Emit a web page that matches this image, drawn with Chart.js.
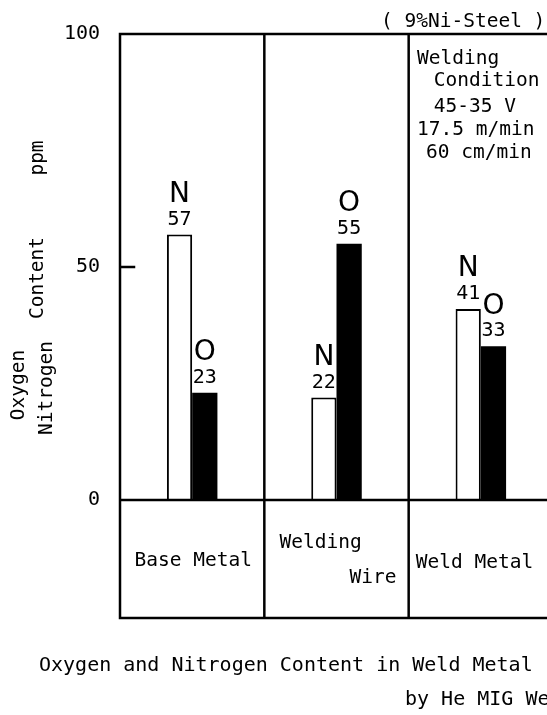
<!DOCTYPE html>
<html>
<head>
<meta charset="utf-8">
<script src="https://cdn.jsdelivr.net/npm/chart.js@4"></script>
<style>
  html, body { margin: 0; padding: 0; background: #fff; overflow: hidden; }
  #wrap { width: 547px; height: 715px; overflow: hidden; }
</style>
</head>
<body>
<div id="wrap"><canvas id="chart" width="555" height="715"></canvas></div>
<script>
// Veriler
const categories = ['Base Metal', 'Welding Wire', 'Weld Metal'];
const nitrogen = [57, 22, 41];
const oxygen = [23, 55, 33];
const yTicks = [0, 50, 100];
const seriesLetters = ['N', 'O'];
const conditionLines = ['Welding', ' Condition', ' 45-35 V', '17.5 m/min', '60 cm/min'];

const MONO = '"DejaVu Sans Mono", "Liberation Mono", monospace';
const BOX_BOTTOM = 618;

// Çerçeve, etiketler ve başlıklar
const paperPlugin = {
    id: 'paper',
    afterDatasetsDraw(chart) {
        const ctx = chart.ctx;
        const area = chart.chartArea;
        const x = chart.scales.x;
        const y = chart.scales.y;
        const W = chart.width;

        ctx.save();
        ctx.strokeStyle = '#000';
        ctx.lineWidth = 2.5;
        ctx.lineCap = 'square';

        // dış çerçeve
        ctx.beginPath();
        ctx.moveTo(area.left, area.top); ctx.lineTo(W, area.top);
        ctx.moveTo(area.left, area.top); ctx.lineTo(area.left, BOX_BOTTOM);
        ctx.moveTo(area.left, area.bottom); ctx.lineTo(W, area.bottom);
        ctx.moveTo(area.left, BOX_BOTTOM); ctx.lineTo(W, BOX_BOTTOM);
        // kategori ayraçları
        const step = x.getPixelForValue(1) - x.getPixelForValue(0);
        categories.forEach((c, i) => {
            const bx = x.getPixelForValue(i) + step / 2;
            ctx.moveTo(bx, area.top); ctx.lineTo(bx, BOX_BOTTOM);
        });
        // 50 çentiği
        const y50 = y.getPixelForValue(50);
        ctx.moveTo(area.left, y50); ctx.lineTo(area.left + 14, y50);
        ctx.stroke();

        ctx.fillStyle = '#000';
        ctx.textBaseline = 'middle';

        // bar üstü etiketler
        chart.data.datasets.forEach((ds, di) => {
            const meta = chart.getDatasetMeta(di);
            meta.data.forEach((bar, i) => {
                ctx.textAlign = 'center';
                ctx.font = '28px "DejaVu Sans", sans-serif';
                ctx.fillText(seriesLetters[di], bar.x, bar.y - 40);
                ctx.font = '20px ' + MONO;
                ctx.fillText(String(ds.data[i]), bar.x, bar.y - 15);
            });
        });

        // kategori yazıları
        ctx.font = '19.5px ' + MONO;
        const c0 = x.getPixelForValue(0), c1 = x.getPixelForValue(1), c2 = x.getPixelForValue(2);
        ctx.textAlign = 'center';
        ctx.fillText('Base Metal', c0 + 1, 561);
        ctx.textAlign = 'left';
        ctx.fillText('Welding', c1 - 57, 543);
        ctx.textAlign = 'right';
        ctx.fillText('Wire', c1 + 60, 578);
        ctx.textAlign = 'left';
        ctx.fillText('Weld Metal', c2 - 65, 563);

        // kaynak koşulları
        ctx.textAlign = 'left';
        const condX = [417, 422, 422, 417, 426];
        const condY = [59, 81, 107, 130, 153];
        conditionLines.forEach((t, i) => ctx.fillText(t, condX[i], condY[i]));
        ctx.fillText('( 9%Ni-Steel )', 381, 22);

        // alt başlıklar
        ctx.font = '20px ' + MONO;
        ctx.fillText('Oxygen and Nitrogen Content in Weld Metal', 39, 666);
        ctx.fillText('by He MIG Welding', 405, 700);

        // y ekseni başlığı
        ctx.font = '19.5px ' + MONO;
        ctx.textAlign = 'center';
        const vtext = (t, tx, ty) => {
            ctx.save();
            ctx.translate(tx, ty);
            ctx.rotate(-Math.PI / 2);
            ctx.fillText(t, 0, 0);
            ctx.restore();
        };
        vtext('ppm', 38, 158);
        vtext('Content', 38, 278);
        vtext('Oxygen', 19, 385);
        vtext('Nitrogen', 47, 388);

        ctx.restore();
    }
};

new Chart(document.getElementById('chart'), {
    type: 'bar',
    data: {
        labels: categories,
        datasets: [
            {
                label: 'Nitrogen',
                data: nitrogen,
                backgroundColor: '#fff',
                borderColor: '#000',
                borderWidth: 2,
                borderSkipped: 'bottom'
            },
            {
                label: 'Oxygen',
                data: oxygen,
                backgroundColor: '#000',
                borderColor: '#000',
                borderWidth: 0
            }
        ]
    },
    options: {
        responsive: false,
        animation: false,
        events: [],
        layout: { padding: { top: 34, right: 2, bottom: 215, left: 0 } },
        plugins: {
            legend: { display: false },
            tooltip: { enabled: false }
        },
        datasets: {
            bar: { categoryPercentage: 0.35, barPercentage: 1.0 }
        },
        scales: {
            x: { display: false },
            y: {
                min: 0,
                max: 100,
                afterFit(scale) { scale.width = 120; },
                afterBuildTicks(scale) { scale.ticks = yTicks.map(v => ({ value: v })); },
                grid: { display: false, drawTicks: false },
                border: { display: false },
                ticks: {
                    padding: 20,
                    color: '#000',
                    font: { family: MONO, size: 20 }
                }
            }
        }
    },
    plugins: [paperPlugin]
});
</script>
</body>
</html>
